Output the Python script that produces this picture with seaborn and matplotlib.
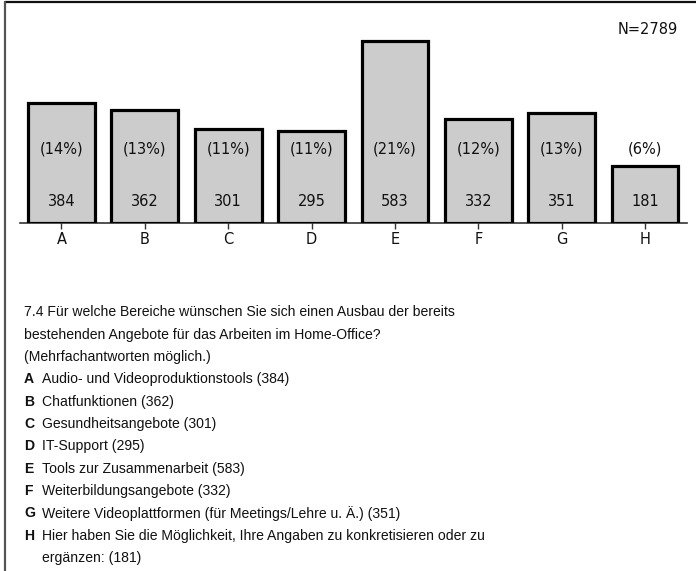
import matplotlib
matplotlib.use("Agg")
import matplotlib.pyplot as plt
from matplotlib.lines import Line2D
import seaborn as sns
import pandas as pd

categories = ["A", "B", "C", "D", "E", "F", "G", "H"]
counts = [384, 362, 301, 295, 583, 332, 351, 181]
percent_labels = ["(14%)", "(13%)", "(11%)", "(11%)", "(21%)", "(12%)", "(13%)", "(6%)"]
total_label = "N=2789"

question = [
    "7.4 Für welche Bereiche wünschen Sie sich einen Ausbau der bereits",
    "bestehenden Angebote für das Arbeiten im Home-Office?",
    "(Mehrfachantworten möglich.)",
]
answers = [
    "Audio- und Videoproduktionstools",
    "Chatfunktionen",
    "Gesundheitsangebote",
    "IT-Support",
    "Tools zur Zusammenarbeit",
    "Weiterbildungsangebote",
    "Weitere Videoplattformen (für Meetings/Lehre u. Ä.)",
    "Hier haben Sie die Möglichkeit, Ihre Angaben zu konkretisieren oder zu\nergänzen:",
]

sns.set_theme(style="white")
plt.rcParams["font.family"] = ["DejaVu Sans"]

W, H = 696, 571
fig = plt.figure(figsize=(W / 100, H / 100), dpi=100)
fig.patch.set_facecolor("white")

# chart area: baseline 222.7 px from the top, categories spread over x 19.8..686.7 px
base_px = 222.7
top_px = 10
ax = fig.add_axes([19.8 / W, (H - base_px) / H, (686.7 - 19.8) / W, (base_px - top_px) / H])
px_per_unit = 0.312
ax.set_ylim(0, (base_px - top_px) / px_per_unit)

df = pd.DataFrame({"cat": categories, "n": counts})
sns.barplot(data=df, x="cat", y="n", ax=ax, color="#cccccc", width=0.8,
            edgecolor="black", linewidth=2.3, saturation=1)
for p in ax.patches:
    p.set_facecolor("#cccccc")
ax.set_xlim(-0.5, len(categories) - 0.5)

# counts near the base, shares on a common row above
y_count = (base_px - 201.7) / px_per_unit
y_pct = (base_px - 149.3) / px_per_unit
for i, (n, pct) in enumerate(zip(counts, percent_labels)):
    ax.text(i, y_count, f"{n}", ha="center", va="center", fontsize=10.5, color="#111111")
    ax.text(i, y_pct, pct, ha="center", va="center", fontsize=10.5, color="#111111")

ax.text(len(categories) - 0.5 - 0.11, (base_px - 30) / px_per_unit, total_label,
        ha="right", va="center", fontsize=10.5, color="#111111")

ax.set_xlabel("")
ax.set_ylabel("")
ax.set_yticks([])
for s in ["top", "right", "left"]:
    ax.spines[s].set_visible(False)
ax.spines["bottom"].set_color("#333333")
ax.spines["bottom"].set_linewidth(1.2)
ax.spines["bottom"].set_zorder(0)
ax.tick_params(axis="x", direction="inout", length=8, width=1.0, color="#333333",
               labelsize=10.5, pad=3, labelcolor="#111111", bottom=True)

# frame lines at the top and left edge
fig.add_artist(Line2D([4.5 / W, 1], [1 - 1.5 / H, 1 - 1.5 / H], transform=fig.transFigure,
                      color="#111111", linewidth=1.6))
fig.add_artist(Line2D([5 / W, 5 / W], [0, 1 - 1.5 / H], transform=fig.transFigure,
                      color="#555555", linewidth=1.6))

# question text and answer key
body_font = ["Liberation Sans", "DejaVu Sans"]
body_size = 10.1
line_h = 22.35
y0 = 312.3
x_text = 24
x_desc = 41.7
row = 0
for line in question:
    fig.text(x_text / W, 1 - (y0 + row * line_h) / H, line, ha="left", va="center",
             fontsize=body_size, family=body_font, color="#111111")
    row += 1
for cat, desc, n in zip(categories, answers, counts):
    fig.text(x_text / W, 1 - (y0 + row * line_h) / H, cat, ha="left", va="center",
             fontsize=body_size, family=body_font, weight="bold", color="#111111")
    parts = (desc + f" ({n})").split("\n")
    for part in parts:
        fig.text(x_desc / W, 1 - (y0 + row * line_h) / H, part, ha="left", va="center",
                 fontsize=body_size, family=body_font, color="#111111")
        row += 1

fig.savefig("out.png", dpi=100)
